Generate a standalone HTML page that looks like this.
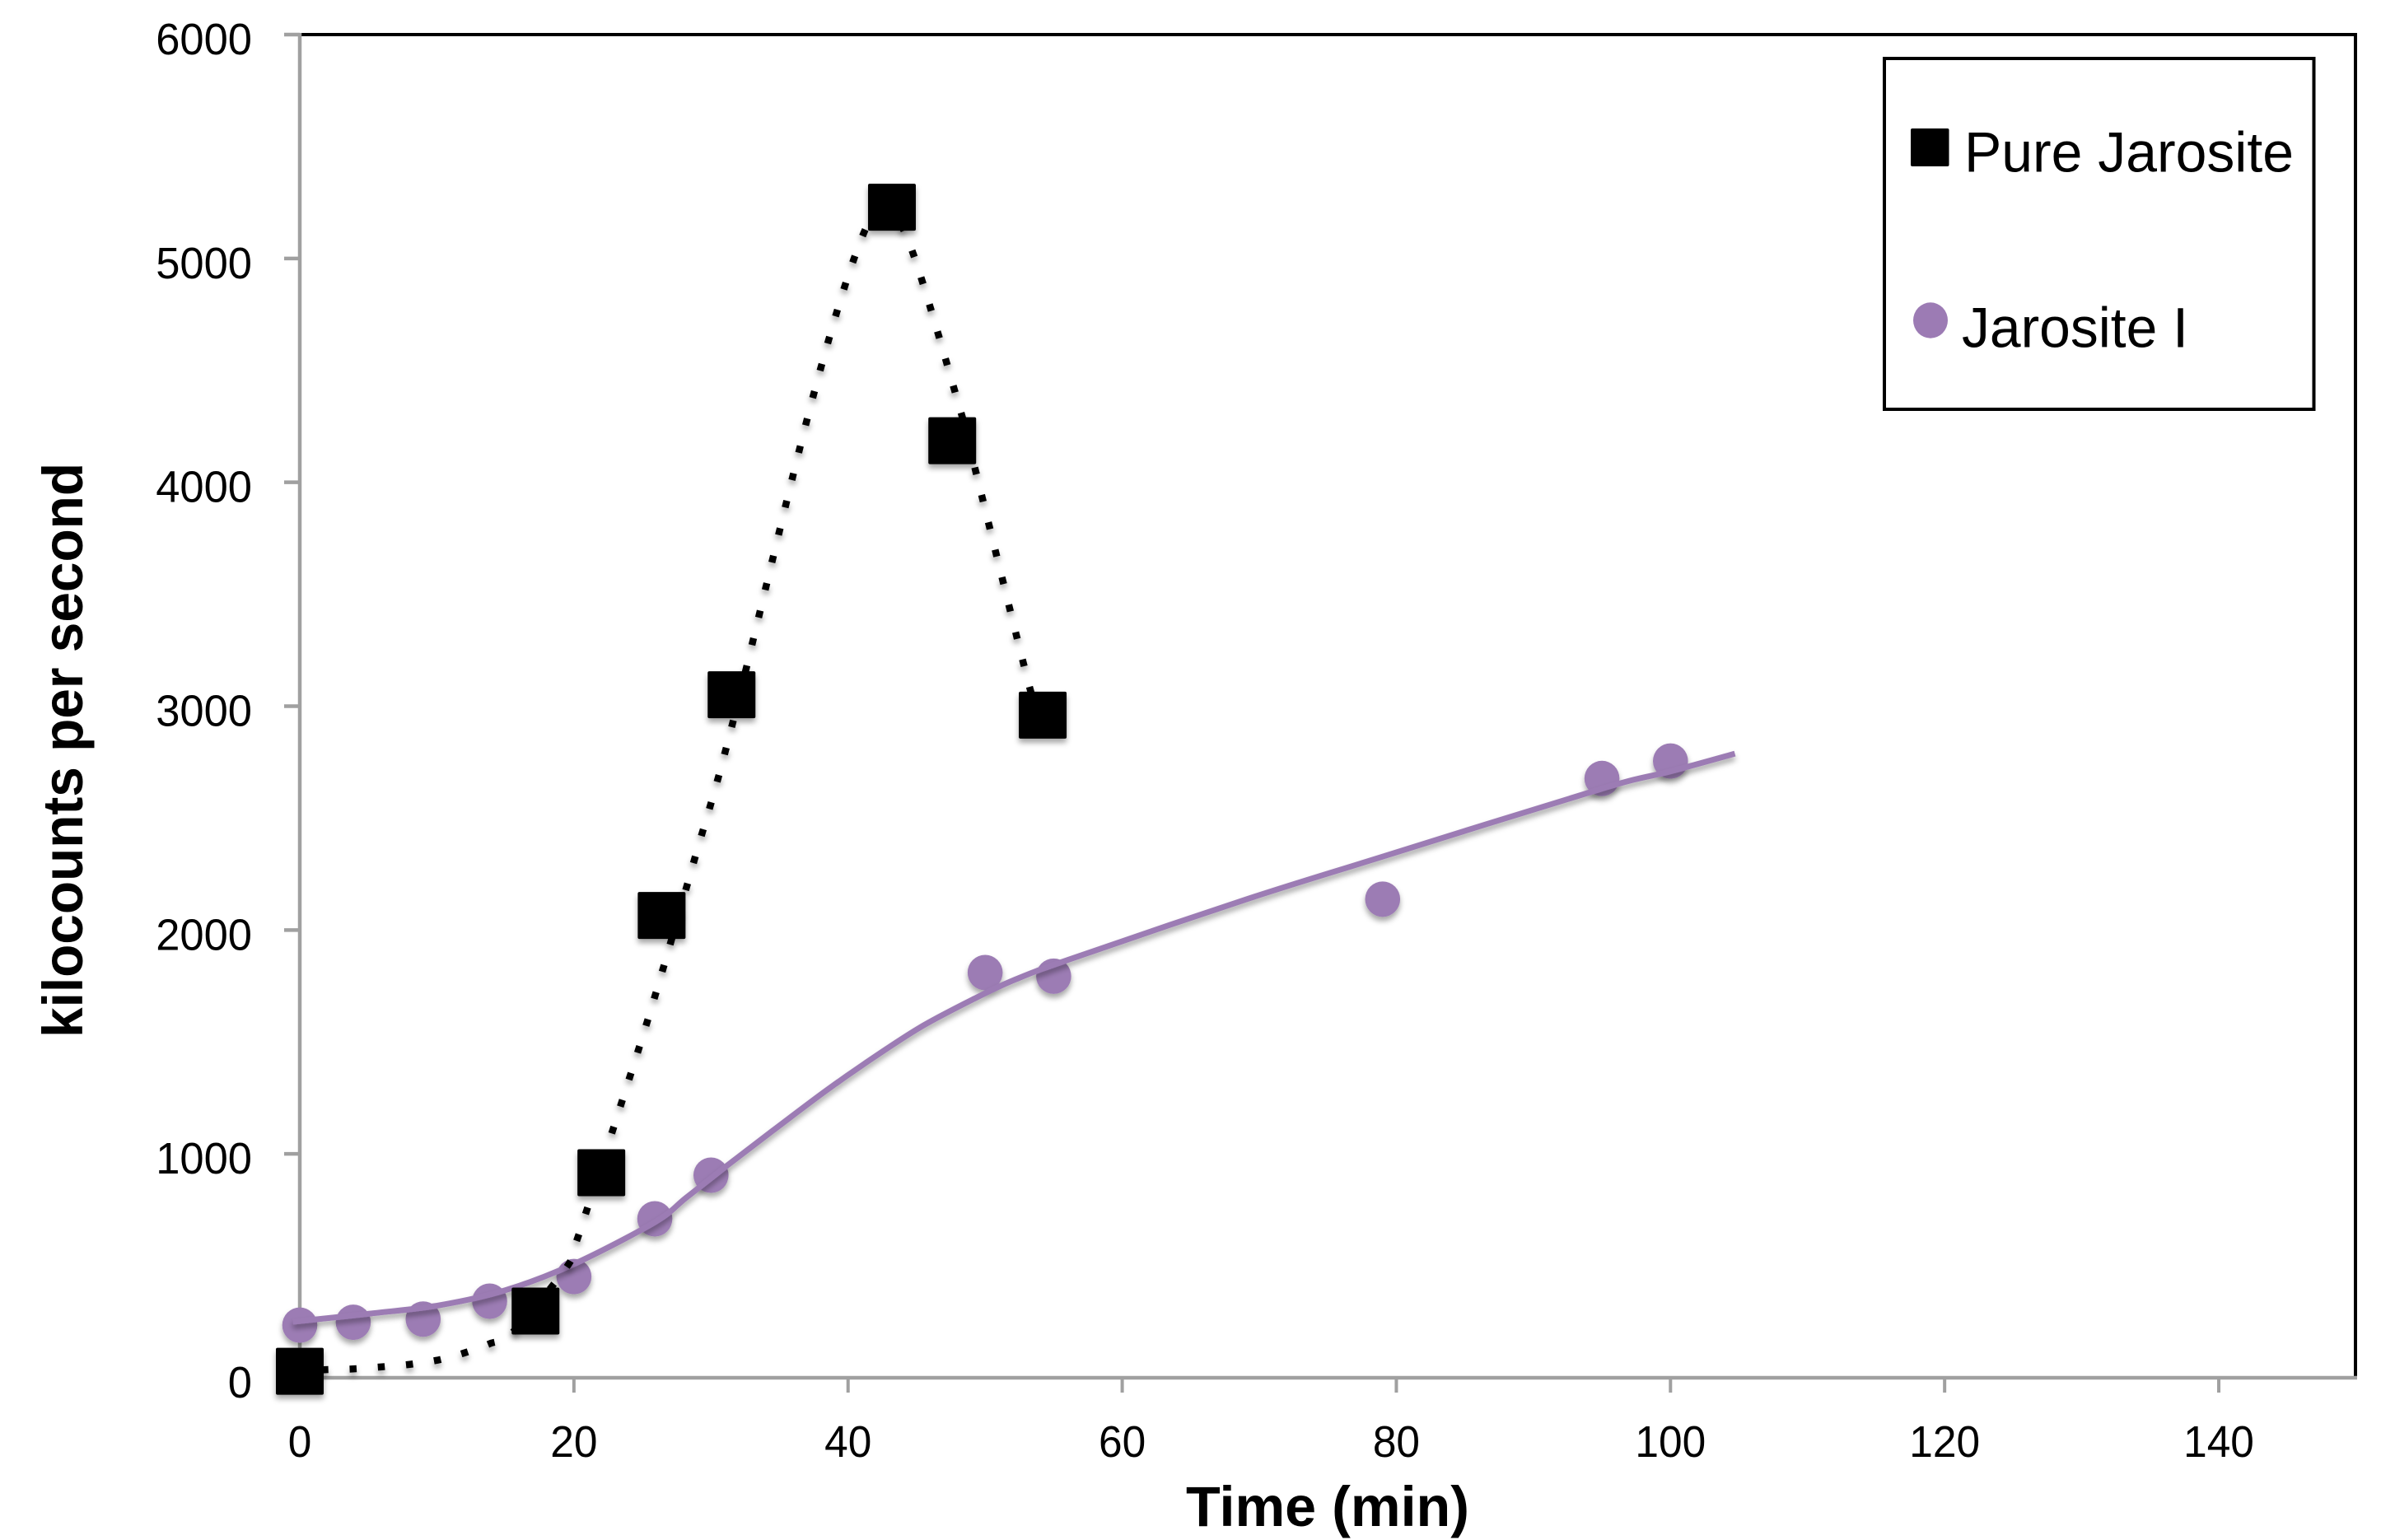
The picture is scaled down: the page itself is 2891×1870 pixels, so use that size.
<!DOCTYPE html>
<html lang="en">
<head>
<meta charset="utf-8">
<title>Jarosite kilocounts per second over time</title>
<style>
  html, body { margin: 0; padding: 0; background: #fff; }
  svg { display: block; }
  text { font-family: "Liberation Sans", sans-serif; fill: #000; }
</style>
</head>
<body>
<svg id="chart" xmlns="http://www.w3.org/2000/svg" width="2891" height="1870" viewBox="0 0 2891 1870">
  <defs>
    <filter id="soft-shadow" filterUnits="userSpaceOnUse" x="0" y="0" width="2891" height="1870">
      <feDropShadow dx="0" dy="5" stdDeviation="3.5" flood-color="#000" flood-opacity="0.35"/>
    </filter>
  </defs>
  <rect x="0" y="0" width="2891" height="1870" fill="#fff"/>
  <g id="axes"></g>
  <g id="marks"></g>

  <text x="1440" y="1853" font-size="69" font-weight="700" textLength="344" lengthAdjust="spacingAndGlyphs">Time (min)</text>
  <text x="100" y="1260" font-size="69" font-weight="700" textLength="698" lengthAdjust="spacingAndGlyphs" transform="rotate(-90 100 1260)">kilocounts per second</text>

  <g>
    <rect x="2288" y="71" width="521.5" height="426" fill="#fff" stroke="#000" stroke-width="4"/>
    <rect x="2320" y="156" width="46.5" height="46" rx="2" fill="#000"/>
    <text x="2385" y="208.5" font-size="69" textLength="400" lengthAdjust="spacingAndGlyphs">Pure Jarosite</text>
    <ellipse cx="2344" cy="389" rx="21" ry="21.7" fill="#9c7bb4"/>
    <text x="2382" y="421.5" font-size="69" textLength="275" lengthAdjust="spacingAndGlyphs">Jarosite I</text>
  </g>
</svg>

<script>
// Chart data
const xTicks = [0, 20, 40, 60, 80, 100, 120, 140];
const yTicks = [0, 1000, 2000, 3000, 4000, 5000, 6000];

const pureTime = [0, 17.2, 22, 26.4, 31.5, 43.2, 47.6, 54.2];
const pureCounts = [29, 298, 916, 2065, 3051, 5229, 4186, 2960];

const dottedTime = [0, 1.8, 3.75, 5.8, 7.9, 9.9, 11.8, 13.8, 15.6, 19.5, 20.2, 20.85, 23.4, 25.85, 28.7, 31.5, 37.4, 41, 42.8, 44.6, 48.2, 49.2, 53.2, 54];
const dottedCounts = [29, 36, 39, 48, 59, 77, 107, 151, 207, 497, 612, 732, 1214, 1692, 2296, 2906, 4372, 5092, 5200, 5046, 4320, 4077, 3095, 2960];

const jarositeTime = [0, 3.9, 9, 13.85, 20, 25.9, 30, 50, 55, 79, 95, 100];
const jarositeCounts = [235, 248, 262, 342, 452, 710, 905, 1810, 1794, 2138, 2677, 2755];

const fitTime = [-0.5, 5.2, 10.2, 15, 20, 25.9, 28.2, 31.2, 34.6, 38.2, 41.2, 45.2, 49.2, 52.2, 56.2, 69.1, 79, 94.9, 100, 104.7];
const fitCounts = [250, 287, 324, 391, 508, 695, 805, 949, 1108, 1274, 1403, 1563, 1693, 1779, 1870, 2138, 2328, 2630, 2709, 2788];

// Axis functions
const X0 = 364, X_PER_UNIT = 16.643, XRIGHT = 2860;
const Y0 = 1673, Y_PER_UNIT = 0.27183;
function sx(v) { return X0 + v * X_PER_UNIT; }
function sy(v) { return Y0 - v * Y_PER_UNIT; }

const NS = 'http://www.w3.org/2000/svg';
function make(tag, attrs, parent) {
  const el = document.createElementNS(NS, tag);
  for (const k in attrs) el.setAttribute(k, attrs[k]);
  parent.appendChild(el);
  return el;
}

function smoothPath(xs, ys) {
  const p = xs.map((x, i) => [sx(x), sy(ys[i])]);
  let d = 'M' + p[0][0].toFixed(1) + ' ' + p[0][1].toFixed(1);
  for (let i = 0; i < p.length - 1; i++) {
    const a = p[Math.max(i - 1, 0)], b = p[i], c = p[i + 1], e = p[Math.min(i + 2, p.length - 1)];
    const c1x = b[0] + (c[0] - a[0]) / 6, c1y = b[1] + (c[1] - a[1]) / 6;
    const c2x = c[0] - (e[0] - b[0]) / 6, c2y = c[1] - (e[1] - b[1]) / 6;
    d += 'C' + c1x.toFixed(1) + ' ' + c1y.toFixed(1) + ' ' + c2x.toFixed(1) + ' ' + c2y.toFixed(1) + ' ' + c[0].toFixed(1) + ' ' + c[1].toFixed(1);
  }
  return d;
}

const axes = document.getElementById('axes');
const marks = document.getElementById('marks');
const GRAY = '#a0a0a0', PURPLE = '#9c7bb4';

// Plot frame
const frameTop = make('line', { x1: X0, y1: sy(6000), x2: XRIGHT + 2, y2: sy(6000), stroke: '#000', 'stroke-width': 4 }, axes);


const frameRight = make('line', { x1: XRIGHT, y1: sy(6000), x2: XRIGHT, y2: Y0 + 2, stroke: '#000', 'stroke-width': 4 }, axes);



const yAxisLine = make('line', { x1: X0, y1: sy(6000) - 2, x2: X0, y2: Y0 + 2, stroke: GRAY, 'stroke-width': 4.5 }, axes);


const xAxisLine = make('line', { x1: X0, y1: Y0, x2: XRIGHT + 2, y2: Y0, stroke: GRAY, 'stroke-width': 4.5 }, axes);



// Y ticks and labels
yTicks.forEach(function (v) {
  const tick = make('line', { x1: 345, y1: sy(v), x2: X0, y2: sy(v), stroke: GRAY, 'stroke-width': 4.5 }, axes);
  
  
  const text = String(v);
  const label = make('text', { x: 306, y: sy(v) + 24, 'font-size': 54, 'text-anchor': 'end', textLength: text.length * 29.2, lengthAdjust: 'spacingAndGlyphs' }, axes);
  
  
  label.textContent = text;
});

// X ticks and labels
xTicks.forEach(function (v) {
  const tick = make('line', { x1: sx(v), y1: Y0, x2: sx(v), y2: 1691, stroke: GRAY, 'stroke-width': 4 }, axes);
  
  
  const text = String(v);
  const label = make('text', { x: sx(v), y: 1769, 'font-size': 54, 'text-anchor': 'middle', textLength: text.length * 28.6, lengthAdjust: 'spacingAndGlyphs' }, axes);
  
  
  label.textContent = text;
});

// Jarosite I points
const jarositeGroup = make('g', { filter: 'url(#soft-shadow)' }, marks);


jarositeTime.forEach(function (t, i) {
  const c = make('ellipse', { cx: sx(t), cy: sy(jarositeCounts[i]), rx: 21.3, ry: 21.5, fill: PURPLE }, jarositeGroup);
  
  
});

// Jarosite I fitted curve
const fitLine = make('path', { d: smoothPath(fitTime, fitCounts), fill: 'none', stroke: PURPLE, 'stroke-width': 7, filter: 'url(#soft-shadow)' }, marks);



// Pure Jarosite dotted trend curve
const pureLine = make('path', { d: smoothPath(dottedTime, dottedCounts), fill: 'none', stroke: '#000', 'stroke-width': 8.5, 'stroke-dasharray': '8.5 25.8', 'stroke-dashoffset': 8, filter: 'url(#soft-shadow)' }, marks);



// Pure Jarosite points
const pureGroup = make('g', { filter: 'url(#soft-shadow)' }, marks);


pureTime.forEach(function (t, i) {
  const r = make('rect', { x: sx(t) - 29, y: sy(pureCounts[i]) - 28.5, width: 58, height: 57, rx: 2, fill: '#000' }, pureGroup);
  
  
});
</script>
</body>
</html>
